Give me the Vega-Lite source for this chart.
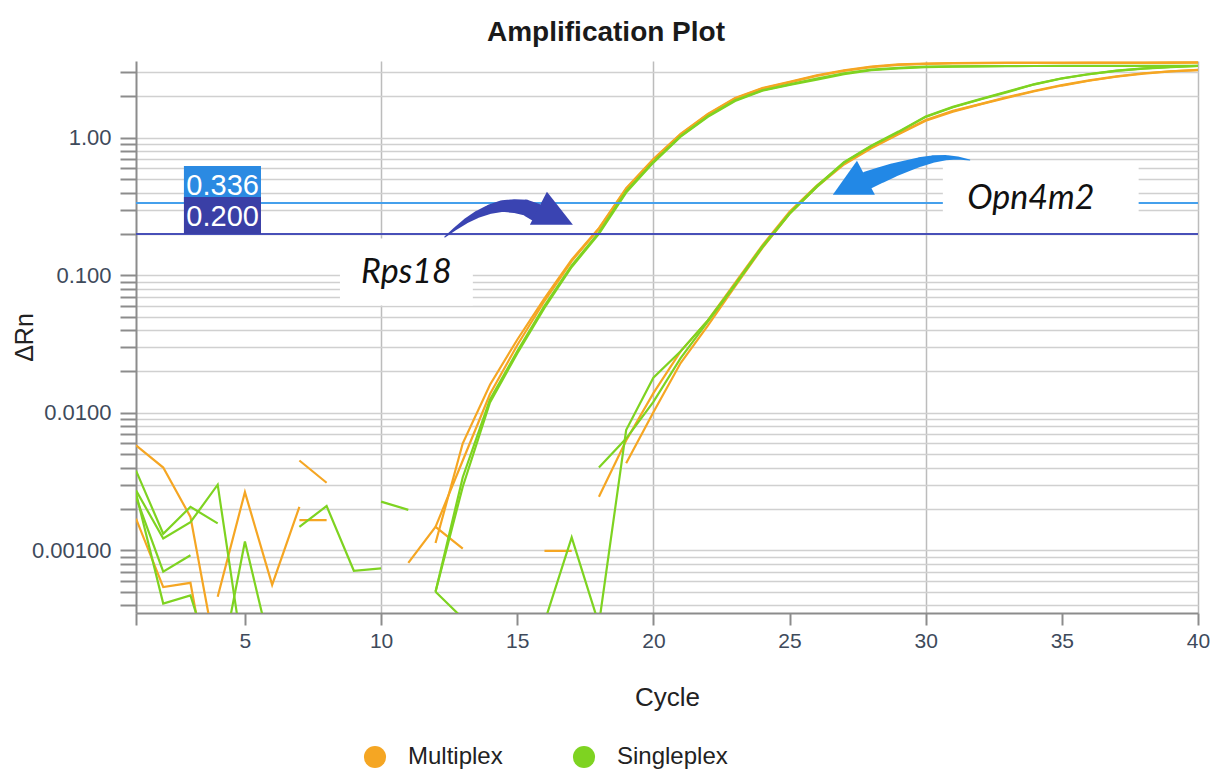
{
  "$schema": "https://vega.github.io/schema/vega-lite/v6.json",
  "width": 1062,
  "height": 552,
  "autosize": {"type": "none"},
  "padding": {"left": 136, "top": 61, "right": 14, "bottom": 165},
  "background": "white",
  "title": {
    "text": "Amplification Plot",
    "font": "Liberation Sans",
    "fontSize": 28,
    "fontWeight": "bold",
    "color": "#1a1a1a",
    "anchor": "middle",
    "frame": "group",
    "dx": -61,
    "offset": 14
  },
  "config": {
    "view": {"stroke": null},
    "font": "Liberation Sans"
  },
  "datasets": {
    "curves": [
      {"well": "M1", "mode": "Multiplex", "cycle": 1, "drn": 0.0058},
      {"well": "M1", "mode": "Multiplex", "cycle": 2, "drn": 0.004},
      {"well": "M1", "mode": "Multiplex", "cycle": 3, "drn": 0.00175},
      {"well": "M1", "mode": "Multiplex", "cycle": 4, "drn": 0.00015},
      {"well": "M1", "mode": "Multiplex", "cycle": 5, "drn": null},
      {"well": "M1", "mode": "Multiplex", "cycle": 7, "drn": 0.00166},
      {"well": "M1", "mode": "Multiplex", "cycle": 8, "drn": 0.00166},
      {"well": "M1", "mode": "Multiplex", "cycle": 9, "drn": null},
      {"well": "M1", "mode": "Multiplex", "cycle": 12, "drn": 0.00113},
      {"well": "M1", "mode": "Multiplex", "cycle": 13, "drn": 0.006},
      {"well": "M1", "mode": "Multiplex", "cycle": 14, "drn": 0.016},
      {"well": "M1", "mode": "Multiplex", "cycle": 15, "drn": 0.034},
      {"well": "M1", "mode": "Multiplex", "cycle": 16, "drn": 0.068},
      {"well": "M1", "mode": "Multiplex", "cycle": 17, "drn": 0.13},
      {"well": "M1", "mode": "Multiplex", "cycle": 18, "drn": 0.22},
      {"well": "M1", "mode": "Multiplex", "cycle": 19, "drn": 0.43},
      {"well": "M1", "mode": "Multiplex", "cycle": 20, "drn": 0.7},
      {"well": "M1", "mode": "Multiplex", "cycle": 21, "drn": 1.07},
      {"well": "M1", "mode": "Multiplex", "cycle": 22, "drn": 1.49},
      {"well": "M1", "mode": "Multiplex", "cycle": 23, "drn": 1.95},
      {"well": "M1", "mode": "Multiplex", "cycle": 24, "drn": 2.3},
      {"well": "M1", "mode": "Multiplex", "cycle": 25, "drn": 2.55},
      {"well": "M1", "mode": "Multiplex", "cycle": 26, "drn": 2.85},
      {"well": "M1", "mode": "Multiplex", "cycle": 27, "drn": 3.1},
      {"well": "M1", "mode": "Multiplex", "cycle": 28, "drn": 3.3},
      {"well": "M1", "mode": "Multiplex", "cycle": 29, "drn": 3.42},
      {"well": "M1", "mode": "Multiplex", "cycle": 30, "drn": 3.47},
      {"well": "M1", "mode": "Multiplex", "cycle": 31, "drn": 3.5},
      {"well": "M1", "mode": "Multiplex", "cycle": 32, "drn": 3.51},
      {"well": "M1", "mode": "Multiplex", "cycle": 33, "drn": 3.52},
      {"well": "M1", "mode": "Multiplex", "cycle": 34, "drn": 3.52},
      {"well": "M1", "mode": "Multiplex", "cycle": 35, "drn": 3.53},
      {"well": "M1", "mode": "Multiplex", "cycle": 36, "drn": 3.53},
      {"well": "M1", "mode": "Multiplex", "cycle": 37, "drn": 3.53},
      {"well": "M1", "mode": "Multiplex", "cycle": 38, "drn": 3.53},
      {"well": "M1", "mode": "Multiplex", "cycle": 39, "drn": 3.54},
      {"well": "M1", "mode": "Multiplex", "cycle": 40, "drn": 3.54},

      {"well": "M2", "mode": "Multiplex", "cycle": 1, "drn": 0.0017},
      {"well": "M2", "mode": "Multiplex", "cycle": 2, "drn": 0.00054},
      {"well": "M2", "mode": "Multiplex", "cycle": 3, "drn": 0.00058},
      {"well": "M2", "mode": "Multiplex", "cycle": 4, "drn": 0.000048},
      {"well": "M2", "mode": "Multiplex", "cycle": 5, "drn": null},
      {"well": "M2", "mode": "Multiplex", "cycle": 12, "drn": 0.00148},
      {"well": "M2", "mode": "Multiplex", "cycle": 13, "drn": 0.0045},
      {"well": "M2", "mode": "Multiplex", "cycle": 14, "drn": 0.0137},
      {"well": "M2", "mode": "Multiplex", "cycle": 15, "drn": 0.031},
      {"well": "M2", "mode": "Multiplex", "cycle": 16, "drn": 0.065},
      {"well": "M2", "mode": "Multiplex", "cycle": 17, "drn": 0.127},
      {"well": "M2", "mode": "Multiplex", "cycle": 18, "drn": 0.218},
      {"well": "M2", "mode": "Multiplex", "cycle": 19, "drn": 0.425},
      {"well": "M2", "mode": "Multiplex", "cycle": 20, "drn": 0.69},
      {"well": "M2", "mode": "Multiplex", "cycle": 21, "drn": 1.06},
      {"well": "M2", "mode": "Multiplex", "cycle": 22, "drn": 1.48},
      {"well": "M2", "mode": "Multiplex", "cycle": 23, "drn": 1.93},
      {"well": "M2", "mode": "Multiplex", "cycle": 24, "drn": 2.28},
      {"well": "M2", "mode": "Multiplex", "cycle": 25, "drn": 2.53},
      {"well": "M2", "mode": "Multiplex", "cycle": 26, "drn": 2.82},
      {"well": "M2", "mode": "Multiplex", "cycle": 27, "drn": 3.07},
      {"well": "M2", "mode": "Multiplex", "cycle": 28, "drn": 3.27},
      {"well": "M2", "mode": "Multiplex", "cycle": 29, "drn": 3.39},
      {"well": "M2", "mode": "Multiplex", "cycle": 30, "drn": 3.45},
      {"well": "M2", "mode": "Multiplex", "cycle": 31, "drn": 3.48},
      {"well": "M2", "mode": "Multiplex", "cycle": 32, "drn": 3.49},
      {"well": "M2", "mode": "Multiplex", "cycle": 33, "drn": 3.5},
      {"well": "M2", "mode": "Multiplex", "cycle": 34, "drn": 3.5},
      {"well": "M2", "mode": "Multiplex", "cycle": 35, "drn": 3.5},
      {"well": "M2", "mode": "Multiplex", "cycle": 36, "drn": 3.51},
      {"well": "M2", "mode": "Multiplex", "cycle": 37, "drn": 3.51},
      {"well": "M2", "mode": "Multiplex", "cycle": 38, "drn": 3.51},
      {"well": "M2", "mode": "Multiplex", "cycle": 39, "drn": 3.51},
      {"well": "M2", "mode": "Multiplex", "cycle": 40, "drn": 3.52},

      {"well": "M3", "mode": "Multiplex", "cycle": 4, "drn": 0.00046},
      {"well": "M3", "mode": "Multiplex", "cycle": 5, "drn": 0.00265},
      {"well": "M3", "mode": "Multiplex", "cycle": 6, "drn": 0.00056},
      {"well": "M3", "mode": "Multiplex", "cycle": 7, "drn": 0.00207},
      {"well": "M3", "mode": "Multiplex", "cycle": 8, "drn": null},
      {"well": "M3", "mode": "Multiplex", "cycle": 11, "drn": 0.00081},
      {"well": "M3", "mode": "Multiplex", "cycle": 12, "drn": 0.00148},
      {"well": "M3", "mode": "Multiplex", "cycle": 13, "drn": 0.00103},
      {"well": "M3", "mode": "Multiplex", "cycle": 14, "drn": null},
      {"well": "M3", "mode": "Multiplex", "cycle": 18, "drn": 0.00245},
      {"well": "M3", "mode": "Multiplex", "cycle": 19, "drn": 0.0063},
      {"well": "M3", "mode": "Multiplex", "cycle": 20, "drn": 0.0139},
      {"well": "M3", "mode": "Multiplex", "cycle": 21, "drn": 0.028},
      {"well": "M3", "mode": "Multiplex", "cycle": 22, "drn": 0.047},
      {"well": "M3", "mode": "Multiplex", "cycle": 23, "drn": 0.088},
      {"well": "M3", "mode": "Multiplex", "cycle": 24, "drn": 0.165},
      {"well": "M3", "mode": "Multiplex", "cycle": 25, "drn": 0.29},
      {"well": "M3", "mode": "Multiplex", "cycle": 26, "drn": 0.45},
      {"well": "M3", "mode": "Multiplex", "cycle": 27, "drn": 0.65},
      {"well": "M3", "mode": "Multiplex", "cycle": 28, "drn": 0.85},
      {"well": "M3", "mode": "Multiplex", "cycle": 29, "drn": 1.07},
      {"well": "M3", "mode": "Multiplex", "cycle": 30, "drn": 1.35},
      {"well": "M3", "mode": "Multiplex", "cycle": 31, "drn": 1.57},
      {"well": "M3", "mode": "Multiplex", "cycle": 32, "drn": 1.76},
      {"well": "M3", "mode": "Multiplex", "cycle": 33, "drn": 1.98},
      {"well": "M3", "mode": "Multiplex", "cycle": 34, "drn": 2.2},
      {"well": "M3", "mode": "Multiplex", "cycle": 35, "drn": 2.42},
      {"well": "M3", "mode": "Multiplex", "cycle": 36, "drn": 2.62},
      {"well": "M3", "mode": "Multiplex", "cycle": 37, "drn": 2.8},
      {"well": "M3", "mode": "Multiplex", "cycle": 38, "drn": 2.95},
      {"well": "M3", "mode": "Multiplex", "cycle": 39, "drn": 3.05},
      {"well": "M3", "mode": "Multiplex", "cycle": 40, "drn": 3.12},

      {"well": "M4", "mode": "Multiplex", "cycle": 7, "drn": 0.0045},
      {"well": "M4", "mode": "Multiplex", "cycle": 8, "drn": 0.0031},
      {"well": "M4", "mode": "Multiplex", "cycle": 9, "drn": null},
      {"well": "M4", "mode": "Multiplex", "cycle": 16, "drn": 0.00099},
      {"well": "M4", "mode": "Multiplex", "cycle": 17, "drn": 0.00099},
      {"well": "M4", "mode": "Multiplex", "cycle": 18, "drn": null},
      {"well": "M4", "mode": "Multiplex", "cycle": 19, "drn": 0.0043},
      {"well": "M4", "mode": "Multiplex", "cycle": 20, "drn": 0.0101},
      {"well": "M4", "mode": "Multiplex", "cycle": 21, "drn": 0.023},
      {"well": "M4", "mode": "Multiplex", "cycle": 22, "drn": 0.043},
      {"well": "M4", "mode": "Multiplex", "cycle": 23, "drn": 0.083},
      {"well": "M4", "mode": "Multiplex", "cycle": 24, "drn": 0.158},
      {"well": "M4", "mode": "Multiplex", "cycle": 25, "drn": 0.28},
      {"well": "M4", "mode": "Multiplex", "cycle": 26, "drn": 0.44},
      {"well": "M4", "mode": "Multiplex", "cycle": 27, "drn": 0.64},
      {"well": "M4", "mode": "Multiplex", "cycle": 28, "drn": 0.84},
      {"well": "M4", "mode": "Multiplex", "cycle": 29, "drn": 1.06},
      {"well": "M4", "mode": "Multiplex", "cycle": 30, "drn": 1.33},
      {"well": "M4", "mode": "Multiplex", "cycle": 31, "drn": 1.55},
      {"well": "M4", "mode": "Multiplex", "cycle": 32, "drn": 1.75},
      {"well": "M4", "mode": "Multiplex", "cycle": 33, "drn": 1.96},
      {"well": "M4", "mode": "Multiplex", "cycle": 34, "drn": 2.18},
      {"well": "M4", "mode": "Multiplex", "cycle": 35, "drn": 2.4},
      {"well": "M4", "mode": "Multiplex", "cycle": 36, "drn": 2.6},
      {"well": "M4", "mode": "Multiplex", "cycle": 37, "drn": 2.78},
      {"well": "M4", "mode": "Multiplex", "cycle": 38, "drn": 2.93},
      {"well": "M4", "mode": "Multiplex", "cycle": 39, "drn": 3.04},
      {"well": "M4", "mode": "Multiplex", "cycle": 40, "drn": 3.11},

      {"well": "S1", "mode": "Singleplex", "cycle": 1, "drn": 0.0038},
      {"well": "S1", "mode": "Singleplex", "cycle": 2, "drn": 0.00132},
      {"well": "S1", "mode": "Singleplex", "cycle": 3, "drn": 0.00207},
      {"well": "S1", "mode": "Singleplex", "cycle": 4, "drn": 0.00157},
      {"well": "S1", "mode": "Singleplex", "cycle": 5, "drn": null},
      {"well": "S1", "mode": "Singleplex", "cycle": 12, "drn": 0.0005},
      {"well": "S1", "mode": "Singleplex", "cycle": 13, "drn": 0.0029},
      {"well": "S1", "mode": "Singleplex", "cycle": 14, "drn": 0.0119},
      {"well": "S1", "mode": "Singleplex", "cycle": 15, "drn": 0.027},
      {"well": "S1", "mode": "Singleplex", "cycle": 16, "drn": 0.058},
      {"well": "S1", "mode": "Singleplex", "cycle": 17, "drn": 0.115},
      {"well": "S1", "mode": "Singleplex", "cycle": 18, "drn": 0.2},
      {"well": "S1", "mode": "Singleplex", "cycle": 19, "drn": 0.4},
      {"well": "S1", "mode": "Singleplex", "cycle": 20, "drn": 0.66},
      {"well": "S1", "mode": "Singleplex", "cycle": 21, "drn": 1.02},
      {"well": "S1", "mode": "Singleplex", "cycle": 22, "drn": 1.42},
      {"well": "S1", "mode": "Singleplex", "cycle": 23, "drn": 1.85},
      {"well": "S1", "mode": "Singleplex", "cycle": 24, "drn": 2.2},
      {"well": "S1", "mode": "Singleplex", "cycle": 25, "drn": 2.42},
      {"well": "S1", "mode": "Singleplex", "cycle": 26, "drn": 2.65},
      {"well": "S1", "mode": "Singleplex", "cycle": 27, "drn": 2.9},
      {"well": "S1", "mode": "Singleplex", "cycle": 28, "drn": 3.1},
      {"well": "S1", "mode": "Singleplex", "cycle": 29, "drn": 3.2},
      {"well": "S1", "mode": "Singleplex", "cycle": 30, "drn": 3.27},
      {"well": "S1", "mode": "Singleplex", "cycle": 31, "drn": 3.3},
      {"well": "S1", "mode": "Singleplex", "cycle": 32, "drn": 3.31},
      {"well": "S1", "mode": "Singleplex", "cycle": 33, "drn": 3.32},
      {"well": "S1", "mode": "Singleplex", "cycle": 34, "drn": 3.33},
      {"well": "S1", "mode": "Singleplex", "cycle": 35, "drn": 3.33},
      {"well": "S1", "mode": "Singleplex", "cycle": 36, "drn": 3.33},
      {"well": "S1", "mode": "Singleplex", "cycle": 37, "drn": 3.33},
      {"well": "S1", "mode": "Singleplex", "cycle": 38, "drn": 3.33},
      {"well": "S1", "mode": "Singleplex", "cycle": 39, "drn": 3.33},
      {"well": "S1", "mode": "Singleplex", "cycle": 40, "drn": 3.33},

      {"well": "S2", "mode": "Singleplex", "cycle": 1, "drn": 0.00273},
      {"well": "S2", "mode": "Singleplex", "cycle": 2, "drn": 0.00122},
      {"well": "S2", "mode": "Singleplex", "cycle": 3, "drn": 0.0016},
      {"well": "S2", "mode": "Singleplex", "cycle": 4, "drn": 0.003},
      {"well": "S2", "mode": "Singleplex", "cycle": 5, "drn": 0.00014},
      {"well": "S2", "mode": "Singleplex", "cycle": 6, "drn": null},
      {"well": "S2", "mode": "Singleplex", "cycle": 12, "drn": 0.0005},
      {"well": "S2", "mode": "Singleplex", "cycle": 13, "drn": 0.0034},
      {"well": "S2", "mode": "Singleplex", "cycle": 14, "drn": 0.0125},
      {"well": "S2", "mode": "Singleplex", "cycle": 15, "drn": 0.028},
      {"well": "S2", "mode": "Singleplex", "cycle": 16, "drn": 0.06},
      {"well": "S2", "mode": "Singleplex", "cycle": 17, "drn": 0.118},
      {"well": "S2", "mode": "Singleplex", "cycle": 18, "drn": 0.205},
      {"well": "S2", "mode": "Singleplex", "cycle": 19, "drn": 0.41},
      {"well": "S2", "mode": "Singleplex", "cycle": 20, "drn": 0.67},
      {"well": "S2", "mode": "Singleplex", "cycle": 21, "drn": 1.03},
      {"well": "S2", "mode": "Singleplex", "cycle": 22, "drn": 1.44},
      {"well": "S2", "mode": "Singleplex", "cycle": 23, "drn": 1.88},
      {"well": "S2", "mode": "Singleplex", "cycle": 24, "drn": 2.22},
      {"well": "S2", "mode": "Singleplex", "cycle": 25, "drn": 2.45},
      {"well": "S2", "mode": "Singleplex", "cycle": 26, "drn": 2.7},
      {"well": "S2", "mode": "Singleplex", "cycle": 27, "drn": 2.95},
      {"well": "S2", "mode": "Singleplex", "cycle": 28, "drn": 3.13},
      {"well": "S2", "mode": "Singleplex", "cycle": 29, "drn": 3.23},
      {"well": "S2", "mode": "Singleplex", "cycle": 30, "drn": 3.29},
      {"well": "S2", "mode": "Singleplex", "cycle": 31, "drn": 3.31},
      {"well": "S2", "mode": "Singleplex", "cycle": 32, "drn": 3.32},
      {"well": "S2", "mode": "Singleplex", "cycle": 33, "drn": 3.33},
      {"well": "S2", "mode": "Singleplex", "cycle": 34, "drn": 3.33},
      {"well": "S2", "mode": "Singleplex", "cycle": 35, "drn": 3.34},
      {"well": "S2", "mode": "Singleplex", "cycle": 36, "drn": 3.34},
      {"well": "S2", "mode": "Singleplex", "cycle": 37, "drn": 3.34},
      {"well": "S2", "mode": "Singleplex", "cycle": 38, "drn": 3.34},
      {"well": "S2", "mode": "Singleplex", "cycle": 39, "drn": 3.34},
      {"well": "S2", "mode": "Singleplex", "cycle": 40, "drn": 3.34},

      {"well": "S3", "mode": "Singleplex", "cycle": 1, "drn": 0.00244},
      {"well": "S3", "mode": "Singleplex", "cycle": 2, "drn": 0.0007},
      {"well": "S3", "mode": "Singleplex", "cycle": 3, "drn": 0.00092},
      {"well": "S3", "mode": "Singleplex", "cycle": 4, "drn": null},
      {"well": "S3", "mode": "Singleplex", "cycle": 7, "drn": 0.00148},
      {"well": "S3", "mode": "Singleplex", "cycle": 8, "drn": 0.0021},
      {"well": "S3", "mode": "Singleplex", "cycle": 9, "drn": 0.00071},
      {"well": "S3", "mode": "Singleplex", "cycle": 10, "drn": 0.00074},
      {"well": "S3", "mode": "Singleplex", "cycle": 11, "drn": null},
      {"well": "S3", "mode": "Singleplex", "cycle": 12, "drn": 0.0005},
      {"well": "S3", "mode": "Singleplex", "cycle": 13, "drn": 0.00032},
      {"well": "S3", "mode": "Singleplex", "cycle": 14, "drn": null},
      {"well": "S3", "mode": "Singleplex", "cycle": 18, "drn": 0.004},
      {"well": "S3", "mode": "Singleplex", "cycle": 19, "drn": 0.0065},
      {"well": "S3", "mode": "Singleplex", "cycle": 20, "drn": 0.012},
      {"well": "S3", "mode": "Singleplex", "cycle": 21, "drn": 0.025},
      {"well": "S3", "mode": "Singleplex", "cycle": 22, "drn": 0.046},
      {"well": "S3", "mode": "Singleplex", "cycle": 23, "drn": 0.085},
      {"well": "S3", "mode": "Singleplex", "cycle": 24, "drn": 0.16},
      {"well": "S3", "mode": "Singleplex", "cycle": 25, "drn": 0.28},
      {"well": "S3", "mode": "Singleplex", "cycle": 26, "drn": 0.44},
      {"well": "S3", "mode": "Singleplex", "cycle": 27, "drn": 0.66},
      {"well": "S3", "mode": "Singleplex", "cycle": 28, "drn": 0.87},
      {"well": "S3", "mode": "Singleplex", "cycle": 29, "drn": 1.1},
      {"well": "S3", "mode": "Singleplex", "cycle": 30, "drn": 1.42},
      {"well": "S3", "mode": "Singleplex", "cycle": 31, "drn": 1.67},
      {"well": "S3", "mode": "Singleplex", "cycle": 32, "drn": 1.9},
      {"well": "S3", "mode": "Singleplex", "cycle": 33, "drn": 2.15},
      {"well": "S3", "mode": "Singleplex", "cycle": 34, "drn": 2.45},
      {"well": "S3", "mode": "Singleplex", "cycle": 35, "drn": 2.7},
      {"well": "S3", "mode": "Singleplex", "cycle": 36, "drn": 2.9},
      {"well": "S3", "mode": "Singleplex", "cycle": 37, "drn": 3.07},
      {"well": "S3", "mode": "Singleplex", "cycle": 38, "drn": 3.19},
      {"well": "S3", "mode": "Singleplex", "cycle": 39, "drn": 3.27},
      {"well": "S3", "mode": "Singleplex", "cycle": 40, "drn": 3.33},

      {"well": "S4", "mode": "Singleplex", "cycle": 1, "drn": 0.0026},
      {"well": "S4", "mode": "Singleplex", "cycle": 2, "drn": 0.00041},
      {"well": "S4", "mode": "Singleplex", "cycle": 3, "drn": 0.00047},
      {"well": "S4", "mode": "Singleplex", "cycle": 4, "drn": 0.00011},
      {"well": "S4", "mode": "Singleplex", "cycle": 5, "drn": 0.00116},
      {"well": "S4", "mode": "Singleplex", "cycle": 6, "drn": 0.00017},
      {"well": "S4", "mode": "Singleplex", "cycle": 7, "drn": null},
      {"well": "S4", "mode": "Singleplex", "cycle": 10, "drn": 0.00226},
      {"well": "S4", "mode": "Singleplex", "cycle": 11, "drn": 0.00197},
      {"well": "S4", "mode": "Singleplex", "cycle": 12, "drn": null},
      {"well": "S4", "mode": "Singleplex", "cycle": 16, "drn": 0.0003},
      {"well": "S4", "mode": "Singleplex", "cycle": 17, "drn": 0.00124},
      {"well": "S4", "mode": "Singleplex", "cycle": 18, "drn": 0.00029},
      {"well": "S4", "mode": "Singleplex", "cycle": 19, "drn": 0.0075},
      {"well": "S4", "mode": "Singleplex", "cycle": 20, "drn": 0.018},
      {"well": "S4", "mode": "Singleplex", "cycle": 21, "drn": 0.028},
      {"well": "S4", "mode": "Singleplex", "cycle": 22, "drn": 0.047},
      {"well": "S4", "mode": "Singleplex", "cycle": 23, "drn": 0.086},
      {"well": "S4", "mode": "Singleplex", "cycle": 24, "drn": 0.162},
      {"well": "S4", "mode": "Singleplex", "cycle": 25, "drn": 0.283},
      {"well": "S4", "mode": "Singleplex", "cycle": 26, "drn": 0.445},
      {"well": "S4", "mode": "Singleplex", "cycle": 27, "drn": 0.665},
      {"well": "S4", "mode": "Singleplex", "cycle": 28, "drn": 0.875},
      {"well": "S4", "mode": "Singleplex", "cycle": 29, "drn": 1.11},
      {"well": "S4", "mode": "Singleplex", "cycle": 30, "drn": 1.43},
      {"well": "S4", "mode": "Singleplex", "cycle": 31, "drn": 1.68},
      {"well": "S4", "mode": "Singleplex", "cycle": 32, "drn": 1.91},
      {"well": "S4", "mode": "Singleplex", "cycle": 33, "drn": 2.17},
      {"well": "S4", "mode": "Singleplex", "cycle": 34, "drn": 2.46},
      {"well": "S4", "mode": "Singleplex", "cycle": 35, "drn": 2.71},
      {"well": "S4", "mode": "Singleplex", "cycle": 36, "drn": 2.91},
      {"well": "S4", "mode": "Singleplex", "cycle": 37, "drn": 3.08},
      {"well": "S4", "mode": "Singleplex", "cycle": 38, "drn": 3.2},
      {"well": "S4", "mode": "Singleplex", "cycle": 39, "drn": 3.28},
      {"well": "S4", "mode": "Singleplex", "cycle": 40, "drn": 3.34}
    ],
    "thresholds": [
      {"target": "Opn4m2", "threshold": 0.336},
      {"target": "Rps18", "threshold": 0.2}
    ],
    "genes": [
      {"gene": "Rps18", "cycle": 10.93, "drn": 0.0885, "cycleStart": 8.49, "cycleEnd": 13.37, "drnLow": 0.0603, "drnHigh": 0.185},
      {"gene": "Opn4m2", "cycle": 33.86, "drn": 0.305, "cycleStart": 30.63, "cycleEnd": 37.82, "drnLow": 0.276, "drnHigh": 0.647}
    ],
    "arrowBodies": [
      {"gene": "Rps18", "step": 0, "cycle": 12.34, "drn": 0.19},
      {"gene": "Rps18", "step": 1, "cycle": 12.71, "drn": 0.217},
      {"gene": "Rps18", "step": 2, "cycle": 13.11, "drn": 0.248},
      {"gene": "Rps18", "step": 3, "cycle": 13.56, "drn": 0.279},
      {"gene": "Rps18", "step": 4, "cycle": 14.0, "drn": 0.303},
      {"gene": "Rps18", "step": 5, "cycle": 14.44, "drn": 0.319},
      {"gene": "Rps18", "step": 6, "cycle": 14.88, "drn": 0.319},
      {"gene": "Rps18", "step": 7, "cycle": 15.32, "drn": 0.311},
      {"gene": "Rps18", "step": 8, "cycle": 15.68, "drn": 0.288},
      {"gene": "Opn4m2", "step": 0, "cycle": 31.62, "drn": 0.69},
      {"gene": "Opn4m2", "step": 1, "cycle": 31.18, "drn": 0.713},
      {"gene": "Opn4m2", "step": 2, "cycle": 30.74, "drn": 0.719},
      {"gene": "Opn4m2", "step": 3, "cycle": 30.26, "drn": 0.701},
      {"gene": "Opn4m2", "step": 4, "cycle": 29.78, "drn": 0.667},
      {"gene": "Opn4m2", "step": 5, "cycle": 29.3, "drn": 0.624},
      {"gene": "Opn4m2", "step": 6, "cycle": 28.83, "drn": 0.583},
      {"gene": "Opn4m2", "step": 7, "cycle": 28.35, "drn": 0.537},
      {"gene": "Opn4m2", "step": 8, "cycle": 27.87, "drn": 0.493}
    ],
    "arrowHeads": [
      {"gene": "Rps18", "cycle": 16.2, "drn": 0.2806},
      {"gene": "Opn4m2", "cycle": 27.4, "drn": 0.466}
    ]
  },
  "layer": [
    {
      "data": {"name": "curves"},
      "mark": {"type": "line", "clip": true, "strokeWidth": 2.2, "interpolate": "linear"},
      "encoding": {
        "x": {
          "field": "cycle",
          "type": "quantitative",
          "scale": {"domain": [1, 40], "nice": false, "zero": false},
          "axis": {
            "values": [1, 5, 10, 15, 20, 25, 30, 35, 40],
            "labelExpr": "datum.value == 1 ? '' : datum.label",
            "labelFlush": false,
            "labelFontSize": 21,
            "labelColor": "#3e4a5b",
            "labelPadding": 5,
            "tickSize": 12,
            "tickWidth": 2,
            "tickColor": "#8c8c8c",
            "domainColor": "#8c8c8c",
            "domainWidth": 2,
            "grid": true,
            "gridColor": "#bcbcbc",
            "gridWidth": 1.5,
            "gridOpacity": {"condition": {"test": "datum.value % 10 === 0", "value": 1}, "value": 0},
            "title": "Cycle",
            "titleFontSize": 26,
            "titleFontWeight": "normal",
            "titleColor": "#222222",
            "titlePadding": 33
          }
        },
        "y": {
          "field": "drn",
          "type": "quantitative",
          "scale": {"type": "log", "domain": [0.00035, 3.62], "nice": false},
          "axis": {
            "values": [0.0004, 0.0005, 0.0006, 0.0007, 0.0008, 0.0009,
                       0.001, 0.002, 0.003, 0.004, 0.005, 0.006, 0.007, 0.008, 0.009,
                       0.01, 0.02, 0.03, 0.04, 0.05, 0.06, 0.07, 0.08, 0.09,
                       0.1, 0.2, 0.3, 0.4, 0.5, 0.6, 0.7, 0.8, 0.9,
                       1, 2, 3],
            "labelExpr": "abs(log(datum.value) / LN10 - round(log(datum.value) / LN10)) < 0.001 ? format(datum.value, '.3r') : ''",
            "labelOverlap": false,
            "labelBound": false,
            "labelFlush": false,
            "labelFontSize": 22,
            "labelColor": "#3e4a5b",
            "labelPadding": 9,
            "tickSize": 16,
            "tickWidth": 2,
            "tickColor": "#8c8c8c",
            "domainColor": "#8c8c8c",
            "domainWidth": 2,
            "grid": true,
            "gridColor": "#d0d0d0",
            "gridWidth": 1.6,
            "title": "ΔRn",
            "titleFontSize": 25,
            "titleFontWeight": "normal",
            "titleColor": "#222222",
            "titlePadding": -6
          }
        },
        "color": {
          "field": "mode",
          "type": "nominal",
          "scale": {"domain": ["Multiplex", "Singleplex"], "range": ["#F5A623", "#7ED321"]},
          "legend": {
            "orient": "none",
            "legendX": 227,
            "legendY": 684,
            "direction": "horizontal",
            "title": null,
            "padding": 0,
            "symbolType": "circle",
            "symbolSize": 490,
            "symbolStrokeWidth": 0,
            "symbolOpacity": 1,
            "labelFontSize": 24,
            "labelColor": "#222222",
            "labelOffset": 21,
            "columnPadding": 69,
            "encode": {"symbols": {"update": {"fill": {"scale": "color", "field": "value"}, "fillOpacity": {"value": 1}}}}
          }
        },
        "detail": {"field": "well"}
      }
    },
    {
      "data": {"name": "thresholds"},
      "mark": {"type": "rule", "strokeWidth": 2},
      "encoding": {
        "y": {"field": "threshold", "type": "quantitative"},
        "color": {"condition": {"test": "datum.target === 'Rps18'", "value": "#4850b8"}, "value": "#45a0ec"}
      }
    },
    {
      "data": {"name": "thresholds"},
      "mark": {"type": "rect", "y2Offset": -37},
      "encoding": {
        "x": {"datum": 2.76, "type": "quantitative"},
        "x2": {"datum": 5.59},
        "y": {"field": "threshold", "type": "quantitative"},
        "y2": {"field": "threshold"},
        "color": {"condition": {"test": "datum.target === 'Rps18'", "value": "#3a3fa6"}, "value": "#2b8ae2"}
      }
    },
    {
      "data": {"name": "thresholds"},
      "mark": {"type": "text", "align": "center", "baseline": "alphabetic", "dy": -8, "fontSize": 29, "font": "Liberation Sans", "color": "#ffffff"},
      "encoding": {
        "x": {"datum": 4.18, "type": "quantitative"},
        "y": {"field": "threshold", "type": "quantitative"},
        "text": {"field": "threshold", "type": "quantitative", "format": ".3f"}
      }
    },
    {
      "data": {"name": "genes"},
      "mark": {"type": "rect", "color": "#ffffff"},
      "encoding": {
        "x": {"field": "cycleStart", "type": "quantitative"},
        "x2": {"field": "cycleEnd"},
        "y": {"field": "drnLow", "type": "quantitative"},
        "y2": {"field": "drnHigh"}
      }
    },
    {
      "data": {"name": "genes"},
      "mark": {"type": "text", "align": "center", "baseline": "alphabetic", "font": "Lato", "fontStyle": "italic", "fontSize": 34, "color": "#111111"},
      "encoding": {
        "x": {"field": "cycle", "type": "quantitative"},
        "y": {"field": "drn", "type": "quantitative"},
        "text": {"field": "gene"}
      }
    },
    {
      "data": {"name": "arrowBodies"},
      "mark": {"type": "trail"},
      "encoding": {
        "x": {"field": "cycle", "type": "quantitative"},
        "y": {"field": "drn", "type": "quantitative"},
        "size": {"field": "step", "type": "quantitative", "scale": {"domain": [0, 8], "range": [1, 18]}, "legend": null},
        "detail": {"field": "gene"},
        "color": {"condition": {"test": "datum.gene === 'Rps18'", "value": "#3a44b2"}, "value": "#2288e6"}
      }
    },
    {
      "data": {"name": "arrowHeads"},
      "transform": [{"filter": "datum.gene === 'Rps18'"}],
      "mark": {"type": "point", "filled": true, "opacity": 1, "size": 2116, "strokeWidth": 0, "color": "#3a44b2", "shape": "M-0.13,-0.96L1,0.48L-0.87,0.48Z"},
      "encoding": {
        "x": {"field": "cycle", "type": "quantitative"},
        "y": {"field": "drn", "type": "quantitative"}
      }
    },
    {
      "data": {"name": "arrowHeads"},
      "transform": [{"filter": "datum.gene === 'Opn4m2'"}],
      "mark": {"type": "point", "filled": true, "opacity": 1, "size": 2116, "strokeWidth": 0, "color": "#2288e6", "shape": "M-0.96,0.49L0.09,-0.99L0.87,0.49Z"},
      "encoding": {
        "x": {"field": "cycle", "type": "quantitative"},
        "y": {"field": "drn", "type": "quantitative"}
      }
    }
  ]
}
